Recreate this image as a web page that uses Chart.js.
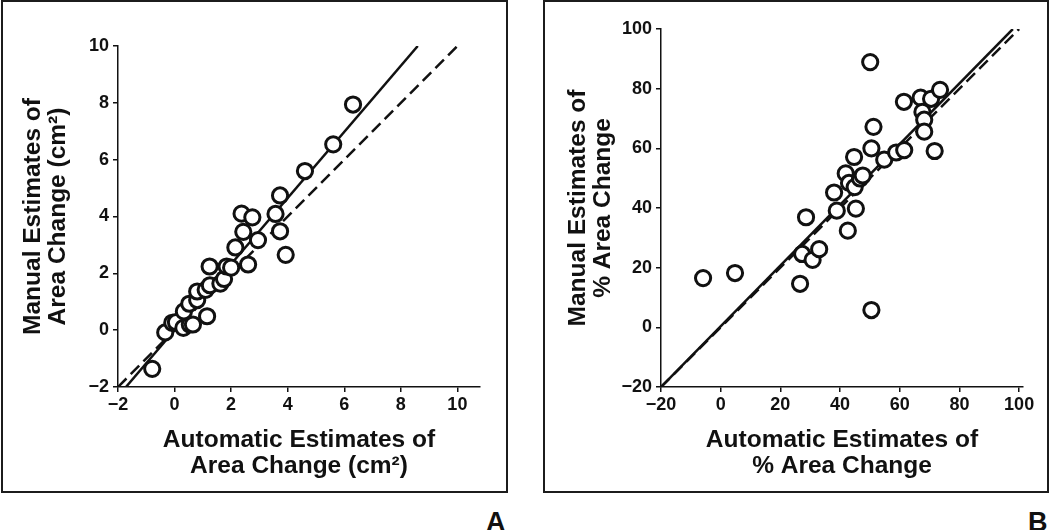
<!DOCTYPE html>
<html><head><meta charset="utf-8">
<script src="https://cdn.jsdelivr.net/npm/chart.js@4"></script>
<style>
html,body{margin:0;padding:0;background:#fff;width:1050px;height:530px;overflow:hidden;}
.box{position:absolute;box-sizing:border-box;border:2px solid #1c1c1c;}
.wrap{position:absolute;}
.lbl{position:absolute;font:bold 27px "Liberation Sans",Arial,sans-serif;color:#111;line-height:27px;}
</style></head><body>
<div class="box" style="left:1px;top:0px;width:507px;height:493px"></div>
<div class="box" style="left:543px;top:0px;width:506px;height:493px"></div>
<div class="wrap" style="left:0;top:0;width:510px;height:500px"><canvas id="cA"></canvas></div>
<div class="wrap" style="left:540px;top:0;width:510px;height:500px"><canvas id="cB"></canvas></div>
<div class="lbl" style="left:486px;top:509px">A</div>
<div class="lbl" style="left:1028px;top:509px">B</div>
<script>
// Panel A: area change (cm²)
const autoA   = [-0.79,-0.33,-0.08,0.05,0.31,0.54,0.65,0.33,0.52,0.80,0.80,1.15,1.10,1.25,1.24,1.62,1.75,1.84,2.00,2.15,2.37,2.43,2.60,2.75,2.95,3.57,3.73,3.73,3.93,4.61,5.61,6.31];
const manualA = [-1.36,-0.08,0.26,0.28,0.08,0.20,0.20,0.66,0.93,1.06,1.36,0.49,1.42,1.58,2.24,1.64,1.80,2.24,2.20,2.91,4.10,3.46,2.31,3.97,3.17,4.09,4.74,3.48,2.65,5.60,6.54,7.94];
const fitA_x = [-1.72, 8.6], fitA_y = [-2, 10];
const identA = [-2, 10];
const ticksA = [-2, 0, 2, 4, 6, 8, 10];
const tickLabelsA = ['\u22122','0','2','4','6','8','10'];

// Panel B: % area change
const autoB   = [-5.9,4.8,26.6,27.3,28.6,30.8,33.0,38.0,38.9,41.9,42.6,43.0,45.3,44.9,44.7,46.7,47.6,50.1,50.5,50.5,51.2,54.8,58.8,61.5,61.4,67.0,67.6,68.2,68.2,70.5,71.7,73.5];
const manualB = [16.5,18.2,14.6,24.6,36.9,22.6,26.2,45.2,39.1,51.6,32.4,48.4,39.8,47.0,57.1,49.9,50.9,88.9,60.0,5.8,67.2,56.2,58.6,59.4,75.6,77.0,72.2,69.6,65.6,76.6,59.1,79.6];
const fitB_x = [-20, 97.9], fitB_y = [-20, 100];
const identB = [-20, 100];
const ticksB = [-20, 0, 20, 40, 60, 80, 100];
const tickLabelsB = ['\u221220','0','20','40','60','80','100'];

const FAM = '"Liberation Sans", Arial, Helvetica, sans-serif';
const INK = '#111';

function pts(xs, ys){ return xs.map((x,i)=>({x:x, y:ys[i]})); }

function makeChart(id, o){
  const axisCommon = (ticks, labels) => ({
    type:'linear',
    afterBuildTicks: s => { s.ticks = ticks.map(v=>({value:v})); },
    grid:{display:true, drawOnChartArea:false, drawTicks:true, tickLength:5, color:INK, lineWidth:1.5},
    border:{display:true, color:INK, width:1.5},
    ticks:{autoSkip:false, maxRotation:0, color:INK,
      font:{family:FAM, size:18, weight:'bold'},
      callback: v => labels[ticks.indexOf(v)]}
  });
  const xs = axisCommon(o.ticks, o.labels);
  Object.assign(xs, {min:o.xmin, max:o.xmax, position:'bottom',
    afterFit: s => { s.height = 113; }});
  xs.ticks.padding = 2;
  xs.title = {display:true, text:o.xTitle, color:INK,
    font:{family:FAM, size:24.5, weight:'bold', lineHeight:1.05},
    padding:{top:0, bottom:o.xTitlePad}};
  const ys = axisCommon(o.ticks, o.labels);
  Object.assign(ys, {min:o.ymin, max:o.ymax, position:'left',
    afterFit: s => { s.width = o.yWidth; }});
  ys.ticks.padding = 4;
  ys.title = {display:true, text:o.yTitle, color:INK,
    font:{family:FAM, size:24.5, weight:'bold', lineHeight:1.05},
    padding:{top:o.yTitlePad, bottom:0}};

  return new Chart(document.getElementById(id), {
    type:'scatter',
    data:{datasets:[
      {data:o.points, order:0, pointRadius:7.6, pointHoverRadius:7.6, pointBorderWidth:3,
       pointBackgroundColor:'#fff', pointBorderColor:INK, showLine:false},
      {data:o.fit, order:2, showLine:true, pointRadius:0, borderColor:INK, borderWidth:2.5, fill:false},
      {data:o.ident, order:1, showLine:true, pointRadius:0, borderColor:INK, borderWidth:2.5, borderDash:[12,6], fill:false}
    ]},
    options:{
      responsive:true, maintainAspectRatio:false, animation:false,
      layout:{padding:{left:0, top:o.top, right:o.right, bottom:0}},
      plugins:{legend:{display:false}, tooltip:{enabled:false}},
      events:[],
      scales:{x:xs, y:ys}
    }
  });
}

makeChart('cA', {
  points: pts(autoA, manualA),
  fit: pts(fitA_x, fitA_y),
  ident: pts(identA, identA),
  ticks: ticksA, labels: tickLabelsA,
  xmin:-2, xmax:10.8, ymin:-2, ymax:10,
  yWidth:118, top:46, right:30,
  xTitle:['Automatic Estimates of','Area Change (cm\u00B2)'],
  yTitle:['Manual Estimates of','Area Change (cm\u00B2)'],
  xTitlePad:21, yTitlePad:20
});
makeChart('cB', {
  points: pts(autoB, manualB),
  fit: pts(fitB_x, fitB_y),
  ident: pts(identB, identB),
  ticks: ticksB, labels: tickLabelsB,
  xmin:-20, xmax:101.3, ymin:-20, ymax:100,
  yWidth:121, top:29, right:27,
  xTitle:['Automatic Estimates of','% Area Change'],
  yTitle:['Manual Estimates of','% Area Change'],
  xTitlePad:21, yTitlePad:25
});
</script>
</body></html>
